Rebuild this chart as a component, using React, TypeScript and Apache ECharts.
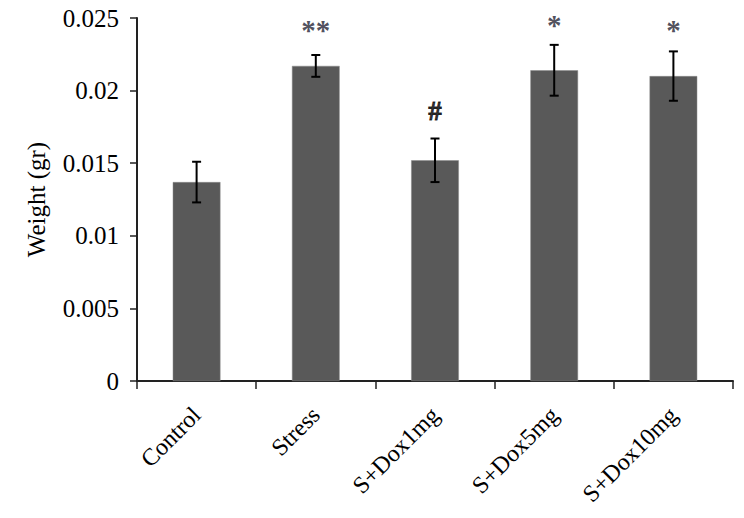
import React, { useEffect, useRef } from "react";
import * as echarts from "echarts";

const categories = ["Control", "Stress", "S+Dox1mg", "S+Dox5mg", "S+Dox10mg"];
const means = [0.0137, 0.0217, 0.0152, 0.0214, 0.0210];
const errors = [0.0014, 0.00075, 0.0015, 0.00175, 0.0017];
const marks = ["", "**", "#", "*", "*"];
const yTicks = { min: 0, max: 0.025, interval: 0.005 };

const FONT = "'Liberation Serif', 'Times New Roman', serif";

export default function App() {
  const ref = useRef<HTMLDivElement>(null);
  useEffect(() => {
    if (!ref.current) return;
    const chart = echarts.init(ref.current, undefined, { renderer: "svg" });
    const errData = categories.map((_, i) => [i, means[i] - errors[i], means[i] + errors[i]]);
    const gaps = [10, 11, 14, 5, 7];
    const markData = categories.map((_, i) => {
      const isHash = marks[i] === "#";
      return {
        value: [i, means[i] + errors[i]],
        label: {
          formatter: marks[i] ? (isHash ? "{h|" + marks[i] + "}" : "{s|" + marks[i] + "}") : "",
          distance: gaps[i],
        },
      };
    });
    chart.setOption({
      animation: false,
      backgroundColor: "#fff",
      grid: { left: 137, right: 11, top: 18, bottom: 137 },
      xAxis: {
        type: "category",
        data: categories,
        boundaryGap: true,
        axisLine: { lineStyle: { color: "#222", width: 2 } },
        axisTick: { show: true, length: 8, alignWithLabel: false, lineStyle: { color: "#222", width: 1.5 } },
        axisLabel: { interval: 0, rotate: 45, margin: 30, fontSize: 24, color: "#000", fontFamily: FONT },
        splitLine: { show: false },
      },
      yAxis: {
        type: "value",
        min: yTicks.min,
        max: yTicks.max,
        interval: yTicks.interval,
        name: "Weight (gr)",
        nameLocation: "middle",
        nameGap: 88,
        nameTextStyle: { fontSize: 25, color: "#000", fontFamily: FONT },
        axisLine: { show: true, lineStyle: { color: "#222", width: 2 } },
        axisTick: { show: true, length: 7, lineStyle: { color: "#222", width: 1.5 } },
        axisLabel: { margin: 18, fontSize: 25, color: "#000", fontFamily: FONT },
        splitLine: { show: false },
      },
      series: [
        {
          type: "bar",
          data: means,
          barWidth: "40%",
          itemStyle: { color: "#595959", borderColor: "#8a8a8a", borderWidth: 0.5 },
        },
        {
          type: "custom",
          data: errData,
          renderItem: (params: any, api: any) => {
            const x = api.value(0);
            const lo = api.coord([x, api.value(1)]);
            const hi = api.coord([x, api.value(2)]);
            const w = 4.5;
            const style = { stroke: "#000", lineWidth: 2 };
            return {
              type: "group",
              children: [
                { type: "line", shape: { x1: hi[0], y1: hi[1], x2: lo[0], y2: lo[1] }, style },
                { type: "line", shape: { x1: hi[0] - w, y1: hi[1], x2: hi[0] + w, y2: hi[1] }, style },
                { type: "line", shape: { x1: lo[0] - w, y1: lo[1], x2: lo[0] + w, y2: lo[1] }, style },
              ],
            };
          },
          z: 5,
        },
        {
          type: "scatter",
          data: markData,
          symbolSize: 0,
          label: {
            show: true,
            position: "top",
            color: "#111",
            fontFamily: FONT,
            rich: {
              h: { fontSize: 27, fontWeight: 700, color: "#000", fontFamily: "'Liberation Serif', serif", textBorderColor: "#000", textBorderWidth: 0.8 },
              s: { fontSize: 29, fontWeight: 700, color: "#223", fontFamily: "'Liberation Serif', serif" },
            },
          },
          z: 6,
        },
      ],
    });
    return () => chart.dispose();
  }, []);
  return <div ref={ref} style={{ width: 744, height: 518, margin: -8 }} />;
}
